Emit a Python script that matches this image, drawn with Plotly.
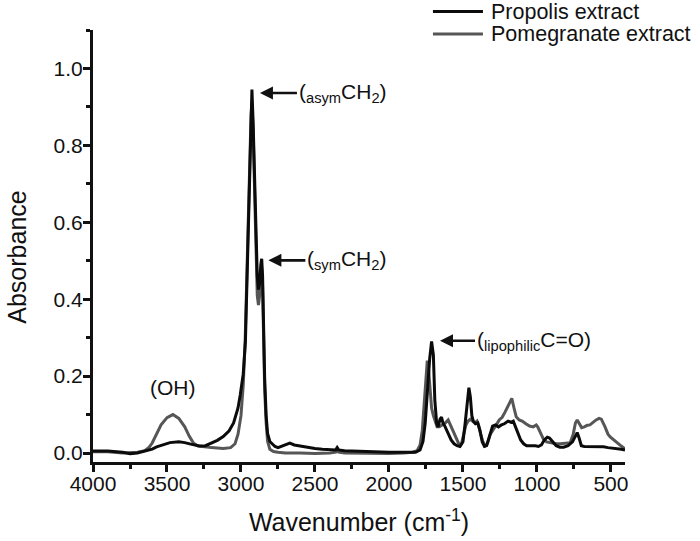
import plotly.graph_objects as go

# ---------------- data ----------------
propolis_wn = [4000, 3900, 3800, 3750, 3700, 3650, 3600, 3570, 3520, 3480, 3420, 3380, 3340, 3280, 3240,
               3200, 3160, 3120, 3080, 3050, 3020, 3005, 2985, 2970, 2960, 2950, 2940, 2932, 2926, 2918,
               2908, 2898, 2890, 2882, 2874, 2866, 2860, 2854, 2848, 2840, 2830, 2820, 2805, 2790, 2770,
               2750, 2720, 2690, 2670, 2640, 2600, 2550, 2500, 2450, 2400, 2360, 2350, 2340, 2300, 2200,
               2100, 2000, 1900, 1820, 1790, 1770, 1755, 1740, 1725, 1712, 1700, 1690, 1678, 1668, 1655,
               1645, 1635, 1620, 1600, 1580, 1560, 1540, 1520, 1500, 1485, 1470, 1460, 1450, 1440, 1430,
               1415, 1400, 1385, 1370, 1355, 1340, 1320, 1300, 1280, 1260, 1240, 1220, 1195, 1175, 1160,
               1145, 1125, 1110, 1090, 1070, 1040, 1010, 990, 970, 950, 930, 915, 895, 870, 845,
               820, 790, 760, 740, 728, 715, 700, 680, 650, 610, 580, 550, 520, 490, 460,
               430, 405]
propolis_abs = [0.005, 0.005, 0.002, -0.002, 0.0, 0.004, 0.010, 0.016, 0.023, 0.027, 0.029, 0.027, 0.023, 0.018, 0.019,
                0.025, 0.033, 0.043, 0.058, 0.078, 0.117, 0.151, 0.205, 0.29, 0.44, 0.63, 0.80, 0.90, 0.945, 0.86,
                0.72, 0.545, 0.46, 0.425, 0.44, 0.49, 0.505, 0.46, 0.32, 0.195, 0.098, 0.05, 0.03, 0.024, 0.017,
                0.014, 0.018, 0.024, 0.026, 0.021, 0.018, 0.015, 0.012, 0.010, 0.008, 0.008, 0.014, 0.008, 0.006, 0.004,
                0.003, 0.002, 0.001, 0.002, 0.008, 0.03, 0.078, 0.165, 0.245, 0.29, 0.255, 0.137, 0.078, 0.068, 0.088,
                0.093, 0.078, 0.068, 0.049, 0.034, 0.024, 0.019, 0.017, 0.029, 0.078, 0.146, 0.17, 0.146, 0.097, 0.083,
                0.076, 0.078, 0.058, 0.029, 0.017, 0.019, 0.044, 0.070, 0.073, 0.068, 0.073, 0.076, 0.083, 0.080, 0.083,
                0.068, 0.044, 0.034, 0.024, 0.019, 0.019, 0.019, 0.017, 0.021, 0.034, 0.041, 0.039, 0.029, 0.019, 0.015,
                0.015, 0.019, 0.029, 0.044, 0.053, 0.039, 0.019, 0.017, 0.017, 0.017, 0.017, 0.016, 0.014, 0.013, 0.012,
                0.010, 0.008]

pomegranate_wn = [4000, 3900, 3800, 3700, 3650, 3620, 3600, 3570, 3540, 3500, 3460, 3420, 3380, 3350, 3320,
                  3290, 3250, 3200, 3120, 3070, 3040, 3020, 3000, 2985, 2972, 2960, 2950, 2940, 2932, 2926,
                  2918, 2908, 2898, 2890, 2882, 2874, 2866, 2860, 2854, 2848, 2840, 2830, 2820, 2805, 2780,
                  2750, 2700, 2600, 2500, 2400, 2360, 2350, 2340, 2300, 2100, 2000, 1900, 1840, 1810, 1790,
                  1775, 1762, 1750, 1741, 1732, 1722, 1712, 1700, 1690, 1675, 1660, 1640, 1620, 1600, 1585,
                  1565, 1545, 1525, 1510, 1495, 1480, 1465, 1450, 1435, 1420, 1405, 1395, 1380, 1365, 1350,
                  1335, 1315, 1295, 1275, 1255, 1235, 1215, 1195, 1180, 1170, 1155, 1140, 1120, 1100, 1075,
                  1050, 1025, 1005, 995, 975, 957, 935, 900, 870, 840, 800, 775, 755, 740, 728,
                  712, 698, 680, 660, 642, 620, 600, 580, 565, 540, 520, 505, 480, 460, 430,
                  405]
pomegranate_abs = [0.003, 0.003, 0.0, 0.002, 0.006, 0.015, 0.026, 0.048, 0.073, 0.092, 0.1, 0.09, 0.068, 0.044, 0.025,
                   0.018, 0.016, 0.014, 0.012, 0.014, 0.024, 0.049, 0.097, 0.175, 0.29, 0.465, 0.64, 0.80, 0.88, 0.91,
                   0.84, 0.68, 0.505, 0.41, 0.385, 0.41, 0.465, 0.48, 0.43, 0.29, 0.165, 0.078, 0.03, 0.01, 0.004,
                   0.002, 0.0, 0.0, -0.001, 0.0, 0.002, 0.010, 0.002, 0.0, -0.001, -0.001, 0.0, 0.002, 0.006, 0.02,
                   0.058, 0.136, 0.205, 0.24, 0.215, 0.156, 0.117, 0.097, 0.083, 0.068, 0.068, 0.073, 0.078, 0.086, 0.073,
                   0.054, 0.039, 0.021, 0.024, 0.049, 0.073, 0.083, 0.088, 0.083, 0.078, 0.083, 0.073, 0.049, 0.029, 0.019,
                   0.024, 0.049, 0.063, 0.073, 0.086, 0.093, 0.107, 0.122, 0.136, 0.142, 0.117, 0.094, 0.086, 0.083, 0.076,
                   0.070, 0.068, 0.073, 0.068, 0.049, 0.037, 0.029, 0.026, 0.024, 0.024, 0.025, 0.027, 0.049, 0.078, 0.086,
                   0.073, 0.066, 0.068, 0.072, 0.073, 0.080, 0.086, 0.090, 0.088, 0.068, 0.049, 0.042, 0.034, 0.026, 0.018,
                   0.011]

series_names = ["Propolis extract", "Pomegranate extract"]
series_colors = ["#0b0b0b", "#565656"]

x_ticks = [4000, 3500, 3000, 2500, 2000, 1500, 1000, 500]
y_ticks = [0.0, 0.2, 0.4, 0.6, 0.8, 1.0]

FONT = "Liberation Sans, Arial, sans-serif"

fig = go.Figure()
fig.add_trace(go.Scatter(x=pomegranate_wn, y=pomegranate_abs, mode="lines", name=series_names[1],
                         line=dict(color=series_colors[1], width=3), showlegend=False))
fig.add_trace(go.Scatter(x=propolis_wn, y=propolis_abs, mode="lines", name=series_names[0],
                         line=dict(color=series_colors[0], width=3), showlegend=False))

# manual legend (paper coordinates relative to plot area)
legend_y = [1.0428, 0.9907]
for name, col, ly in zip(series_names, series_colors, legend_y):
    fig.add_shape(type="line", xref="paper", yref="paper", x0=0.639, x1=0.733, y0=ly, y1=ly,
                  line=dict(color=col, width=3))
    fig.add_annotation(xref="paper", yref="paper", x=0.7462, y=ly, text=name, showarrow=False,
                       xanchor="left", yanchor="middle", borderpad=0,
                       font=dict(size=21.5, color="#111", family=FONT))

ann_font = dict(size=21, color="#111", family=FONT)
arrow_kw = dict(showarrow=True, arrowhead=2, arrowsize=1.0, arrowwidth=2.6, arrowcolor="#111",
                standoff=0, ay=0, xanchor="left", yanchor="middle", font=ann_font)
fig.add_annotation(x=2872, y=0.936, ax=37, text="(<sub>asym</sub>CH<sub>2</sub>)", **arrow_kw)
fig.add_annotation(x=2815, y=0.501, ax=37, text="(<sub>sym</sub>CH<sub>2</sub>)", **arrow_kw)
fig.add_annotation(x=1655, y=0.292, ax=35, text="(<sub>lipophilic</sub>C=O)", **arrow_kw)
fig.add_annotation(x=3459, y=0.171, text="(OH)", showarrow=False, xanchor="center", yanchor="middle",
                   font=ann_font)

# y-axis title as a rotated text
fig.add_annotation(xref="paper", yref="paper", x=-0.143, y=0.475, text="Absorbance", textangle=-90,
                   showarrow=False, xanchor="center", yanchor="middle",
                   font=dict(size=25, color="#111", family=FONT))

axis_common = dict(showgrid=False, zeroline=False, showline=True, linewidth=3, linecolor="#111",
                   ticks="outside", tickwidth=2.5, tickcolor="#111", ticklen=7,
                   tickfont=dict(size=21, color="#111", family=FONT), mirror=False)

fig.update_xaxes(range=[4000, 405], tickvals=x_ticks, ticktext=[str(v) for v in x_ticks],
                 minor=dict(dtick=250, tick0=0, ticks="outside", ticklen=4, tickwidth=2.5, tickcolor="#111"),
                 ticklabelstandoff=-6,
                 title=dict(text="Wavenumber (cm<sup>-1</sup>)", font=dict(size=25, color="#111", family=FONT),
                            standoff=20),
                 **axis_common)
fig.update_yaxes(range=[-0.0234, 1.1], tickvals=y_ticks, ticktext=[f"{v:.1f}" for v in y_ticks],
                 minor=dict(dtick=0.1, tick0=0, ticks="outside", ticklen=4, tickwidth=2.5, tickcolor="#111"),
                 ticklabelstandoff=-4,
                 **axis_common)

fig.update_layout(width=700, height=541, margin=dict(l=93, r=75, t=30, b=79, autoexpand=False),
                  paper_bgcolor="white", plot_bgcolor="white", showlegend=False,
                  font=dict(family=FONT, color="#111"))

fig.write_html("out.html", config={"displayModeBar": False},
               post_script="document.body.style.margin='0';document.body.style.padding='0';"
                           "document.body.style.overflow='hidden';")
